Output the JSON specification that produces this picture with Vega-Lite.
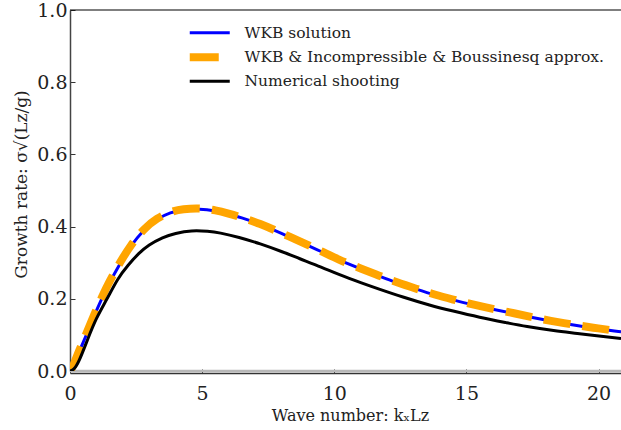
{
  "$schema": "https://vega.github.io/schema/vega-lite/v6.json",
  "width": 551,
  "height": 361,
  "autosize": {"type": "none"},
  "padding": {"left": 70, "top": 10, "right": 0, "bottom": 59},
  "background": "white",
  "config": {
    "view": {"stroke": null},
    "font": "DejaVu Serif",
    "axis": {"grid": false, "labelFont": "DejaVu Serif", "titleFont": "DejaVu Serif", "titleFontWeight": "normal", "labelColor": "#222", "titleColor": "#222"},
    "legend": {"labelFont": "DejaVu Serif"}
  },
  "datasets": {
    "curves": [
      {"k": 0, "rate": 0, "series": "WKB solution"},
      {"k": 0.15, "rate": 0.018, "series": "WKB solution"},
      {"k": 0.3, "rate": 0.045, "series": "WKB solution"},
      {"k": 0.6, "rate": 0.097, "series": "WKB solution"},
      {"k": 0.9, "rate": 0.15, "series": "WKB solution"},
      {"k": 1.2, "rate": 0.2, "series": "WKB solution"},
      {"k": 1.5, "rate": 0.245, "series": "WKB solution"},
      {"k": 1.9, "rate": 0.298, "series": "WKB solution"},
      {"k": 2.3, "rate": 0.345, "series": "WKB solution"},
      {"k": 2.8, "rate": 0.39, "series": "WKB solution"},
      {"k": 3.3, "rate": 0.42, "series": "WKB solution"},
      {"k": 3.8, "rate": 0.438, "series": "WKB solution"},
      {"k": 4.3, "rate": 0.446, "series": "WKB solution"},
      {"k": 4.9, "rate": 0.448, "series": "WKB solution"},
      {"k": 5.5, "rate": 0.443, "series": "WKB solution"},
      {"k": 6.0, "rate": 0.435, "series": "WKB solution"},
      {"k": 6.5, "rate": 0.424, "series": "WKB solution"},
      {"k": 7.2, "rate": 0.406, "series": "WKB solution"},
      {"k": 8.0, "rate": 0.381, "series": "WKB solution"},
      {"k": 8.7, "rate": 0.358, "series": "WKB solution"},
      {"k": 9.5, "rate": 0.331, "series": "WKB solution"},
      {"k": 10.2, "rate": 0.307, "series": "WKB solution"},
      {"k": 11.0, "rate": 0.283, "series": "WKB solution"},
      {"k": 11.7, "rate": 0.263, "series": "WKB solution"},
      {"k": 12.4, "rate": 0.244, "series": "WKB solution"},
      {"k": 13.1, "rate": 0.227, "series": "WKB solution"},
      {"k": 13.8, "rate": 0.211, "series": "WKB solution"},
      {"k": 14.5, "rate": 0.197, "series": "WKB solution"},
      {"k": 15.2, "rate": 0.184, "series": "WKB solution"},
      {"k": 16.0, "rate": 0.171, "series": "WKB solution"},
      {"k": 16.8, "rate": 0.159, "series": "WKB solution"},
      {"k": 17.5, "rate": 0.148, "series": "WKB solution"},
      {"k": 18.2, "rate": 0.138, "series": "WKB solution"},
      {"k": 19.0, "rate": 0.128, "series": "WKB solution"},
      {"k": 19.8, "rate": 0.119, "series": "WKB solution"},
      {"k": 20.6, "rate": 0.111, "series": "WKB solution"},
      {"k": 20.85, "rate": 0.109, "series": "WKB solution"},

      {"k": 0, "rate": 0, "series": "WKB & Incompressible & Boussinesq approx."},
      {"k": 0.15, "rate": 0.02, "series": "WKB & Incompressible & Boussinesq approx."},
      {"k": 0.3, "rate": 0.048, "series": "WKB & Incompressible & Boussinesq approx."},
      {"k": 0.6, "rate": 0.1, "series": "WKB & Incompressible & Boussinesq approx."},
      {"k": 0.9, "rate": 0.153, "series": "WKB & Incompressible & Boussinesq approx."},
      {"k": 1.2, "rate": 0.203, "series": "WKB & Incompressible & Boussinesq approx."},
      {"k": 1.5, "rate": 0.248, "series": "WKB & Incompressible & Boussinesq approx."},
      {"k": 1.9, "rate": 0.301, "series": "WKB & Incompressible & Boussinesq approx."},
      {"k": 2.3, "rate": 0.347, "series": "WKB & Incompressible & Boussinesq approx."},
      {"k": 2.8, "rate": 0.392, "series": "WKB & Incompressible & Boussinesq approx."},
      {"k": 3.3, "rate": 0.422, "series": "WKB & Incompressible & Boussinesq approx."},
      {"k": 3.8, "rate": 0.44, "series": "WKB & Incompressible & Boussinesq approx."},
      {"k": 4.3, "rate": 0.448, "series": "WKB & Incompressible & Boussinesq approx."},
      {"k": 4.9, "rate": 0.45, "series": "WKB & Incompressible & Boussinesq approx."},
      {"k": 5.5, "rate": 0.445, "series": "WKB & Incompressible & Boussinesq approx."},
      {"k": 6.0, "rate": 0.436, "series": "WKB & Incompressible & Boussinesq approx."},
      {"k": 6.5, "rate": 0.425, "series": "WKB & Incompressible & Boussinesq approx."},
      {"k": 7.2, "rate": 0.407, "series": "WKB & Incompressible & Boussinesq approx."},
      {"k": 8.0, "rate": 0.382, "series": "WKB & Incompressible & Boussinesq approx."},
      {"k": 8.7, "rate": 0.359, "series": "WKB & Incompressible & Boussinesq approx."},
      {"k": 9.5, "rate": 0.332, "series": "WKB & Incompressible & Boussinesq approx."},
      {"k": 10.2, "rate": 0.308, "series": "WKB & Incompressible & Boussinesq approx."},
      {"k": 11.0, "rate": 0.284, "series": "WKB & Incompressible & Boussinesq approx."},
      {"k": 11.7, "rate": 0.264, "series": "WKB & Incompressible & Boussinesq approx."},
      {"k": 12.4, "rate": 0.245, "series": "WKB & Incompressible & Boussinesq approx."},
      {"k": 13.1, "rate": 0.228, "series": "WKB & Incompressible & Boussinesq approx."},
      {"k": 13.8, "rate": 0.212, "series": "WKB & Incompressible & Boussinesq approx."},
      {"k": 14.5, "rate": 0.198, "series": "WKB & Incompressible & Boussinesq approx."},
      {"k": 15.2, "rate": 0.185, "series": "WKB & Incompressible & Boussinesq approx."},
      {"k": 16.0, "rate": 0.172, "series": "WKB & Incompressible & Boussinesq approx."},
      {"k": 16.8, "rate": 0.16, "series": "WKB & Incompressible & Boussinesq approx."},
      {"k": 17.5, "rate": 0.149, "series": "WKB & Incompressible & Boussinesq approx."},
      {"k": 18.2, "rate": 0.139, "series": "WKB & Incompressible & Boussinesq approx."},
      {"k": 19.0, "rate": 0.129, "series": "WKB & Incompressible & Boussinesq approx."},
      {"k": 19.8, "rate": 0.12, "series": "WKB & Incompressible & Boussinesq approx."},
      {"k": 20.6, "rate": 0.112, "series": "WKB & Incompressible & Boussinesq approx."},
      {"k": 20.85, "rate": 0.11, "series": "WKB & Incompressible & Boussinesq approx."},

      {"k": 0, "rate": 0, "series": "Numerical shooting"},
      {"k": 0.15, "rate": 0.006, "series": "Numerical shooting"},
      {"k": 0.35, "rate": 0.03, "series": "Numerical shooting"},
      {"k": 0.66, "rate": 0.086, "series": "Numerical shooting"},
      {"k": 1.0, "rate": 0.145, "series": "Numerical shooting"},
      {"k": 1.4, "rate": 0.2, "series": "Numerical shooting"},
      {"k": 1.8, "rate": 0.253, "series": "Numerical shooting"},
      {"k": 2.2, "rate": 0.293, "series": "Numerical shooting"},
      {"k": 2.6, "rate": 0.325, "series": "Numerical shooting"},
      {"k": 3.0, "rate": 0.349, "series": "Numerical shooting"},
      {"k": 3.5, "rate": 0.369, "series": "Numerical shooting"},
      {"k": 4.0, "rate": 0.381, "series": "Numerical shooting"},
      {"k": 4.6, "rate": 0.388, "series": "Numerical shooting"},
      {"k": 5.2, "rate": 0.387, "series": "Numerical shooting"},
      {"k": 5.7, "rate": 0.382, "series": "Numerical shooting"},
      {"k": 6.4, "rate": 0.370, "series": "Numerical shooting"},
      {"k": 7.2, "rate": 0.352, "series": "Numerical shooting"},
      {"k": 8.0, "rate": 0.331, "series": "Numerical shooting"},
      {"k": 8.7, "rate": 0.311, "series": "Numerical shooting"},
      {"k": 9.5, "rate": 0.288, "series": "Numerical shooting"},
      {"k": 10.2, "rate": 0.267, "series": "Numerical shooting"},
      {"k": 11.0, "rate": 0.245, "series": "Numerical shooting"},
      {"k": 11.7, "rate": 0.227, "series": "Numerical shooting"},
      {"k": 12.6, "rate": 0.205, "series": "Numerical shooting"},
      {"k": 13.6, "rate": 0.183, "series": "Numerical shooting"},
      {"k": 14.5, "rate": 0.166, "series": "Numerical shooting"},
      {"k": 15.5, "rate": 0.149, "series": "Numerical shooting"},
      {"k": 16.5, "rate": 0.134, "series": "Numerical shooting"},
      {"k": 17.3, "rate": 0.123, "series": "Numerical shooting"},
      {"k": 18.3, "rate": 0.112, "series": "Numerical shooting"},
      {"k": 19.2, "rate": 0.104, "series": "Numerical shooting"},
      {"k": 20.1, "rate": 0.096, "series": "Numerical shooting"},
      {"k": 20.85, "rate": 0.09, "series": "Numerical shooting"}
    ],
    "frame": [{"level": 0, "kind": "zero"}, {"level": 1, "kind": "top"}]
  },
  "layer": [
    {
      "data": {"name": "frame"},
      "transform": [{"filter": "datum.kind === 'zero'"}],
      "mark": {"type": "rule", "color": "#b8b8b8", "strokeWidth": 2.5},
      "encoding": {"y": {"field": "level", "type": "quantitative", "scale": {"domain": [0, 1]}}}
    },
    {
      "data": {"name": "frame"},
      "transform": [{"filter": "datum.kind === 'top'"}],
      "mark": {"type": "rule", "color": "#000000", "strokeWidth": 1.2},
      "encoding": {"y": {"field": "level", "type": "quantitative"}}
    },
    {
      "data": {"name": "curves"},
      "transform": [{"filter": "datum.series === 'WKB solution'"}],
      "mark": {"type": "line", "strokeWidth": 3, "interpolate": "natural", "clip": true},
      "encoding": {
        "x": {"field": "k", "type": "quantitative", "scale": {"domain": [0, 20.85], "nice": false, "zero": false},
          "axis": {"values": [0, 5, 10, 15, 20], "format": "d", "title": "Wave number: kₓLz", "titleFontSize": 16, "labelFontSize": 19, "tickSize": -4, "tickColor": "#333", "labelPadding": 15, "domainColor": "#333", "domainWidth": 1.5, "offset": 2, "titleX": 280, "titleY": 42, "titleBaseline": "middle", "titleAlign": "center", "labelFlush": false}},
        "y": {"field": "rate", "type": "quantitative", "scale": {"domain": [0, 1], "nice": false},
          "axis": {"values": [0, 0.2, 0.4, 0.6, 0.8, 1.0], "format": ".1f", "title": "Growth rate: σ√(Lz/g)", "titleFontSize": 17, "labelFontSize": 19, "tickSize": -5, "tickColor": "#333", "labelPadding": 8, "domainColor": "#444", "domainWidth": 1.5, "titleX": -49, "titleY": 174, "titleAngle": -90, "titleBaseline": "middle", "titleAlign": "center", "labelFlush": false}},
        "color": {"field": "series", "type": "nominal",
          "scale": {"domain": ["WKB solution", "WKB & Incompressible & Boussinesq approx.", "Numerical shooting"], "range": ["#0000ff", "#ffa500", "#000000"]},
          "legend": {"title": null, "orient": "none", "legendX": 132, "legendY": 15, "padding": 0, "symbolType": "stroke", "symbolSize": 1600, "symbolStrokeWidth": 3, "labelFontSize": 15.5, "labelColor": "#222", "labelOffset": 27, "rowPadding": -1.5, "labelLimit": 500,
            "encode": {"symbols": {"update": {
              "strokeWidth": {"signal": "datum.value === 'WKB & Incompressible & Boussinesq approx.' ? 8 : 3"},
              "strokeDash": {"signal": "datum.value === 'WKB & Incompressible & Boussinesq approx.' ? [29, 100] : [1, 0]"},
              "strokeCap": {"value": "butt"}}}}}}
      }
    },
    {
      "data": {"name": "curves"},
      "transform": [{"filter": "datum.series === 'WKB & Incompressible & Boussinesq approx.'"}],
      "mark": {"type": "line", "strokeWidth": 8, "strokeDash": [27, 12], "strokeCap": "butt", "interpolate": "natural", "clip": true},
      "encoding": {
        "x": {"field": "k", "type": "quantitative"},
        "y": {"field": "rate", "type": "quantitative"},
        "color": {"field": "series", "type": "nominal"}
      }
    },
    {
      "data": {"name": "curves"},
      "transform": [{"filter": "datum.series === 'Numerical shooting'"}],
      "mark": {"type": "line", "strokeWidth": 3, "interpolate": "natural", "clip": true},
      "encoding": {
        "x": {"field": "k", "type": "quantitative"},
        "y": {"field": "rate", "type": "quantitative"},
        "color": {"field": "series", "type": "nominal"}
      }
    }
  ]
}
